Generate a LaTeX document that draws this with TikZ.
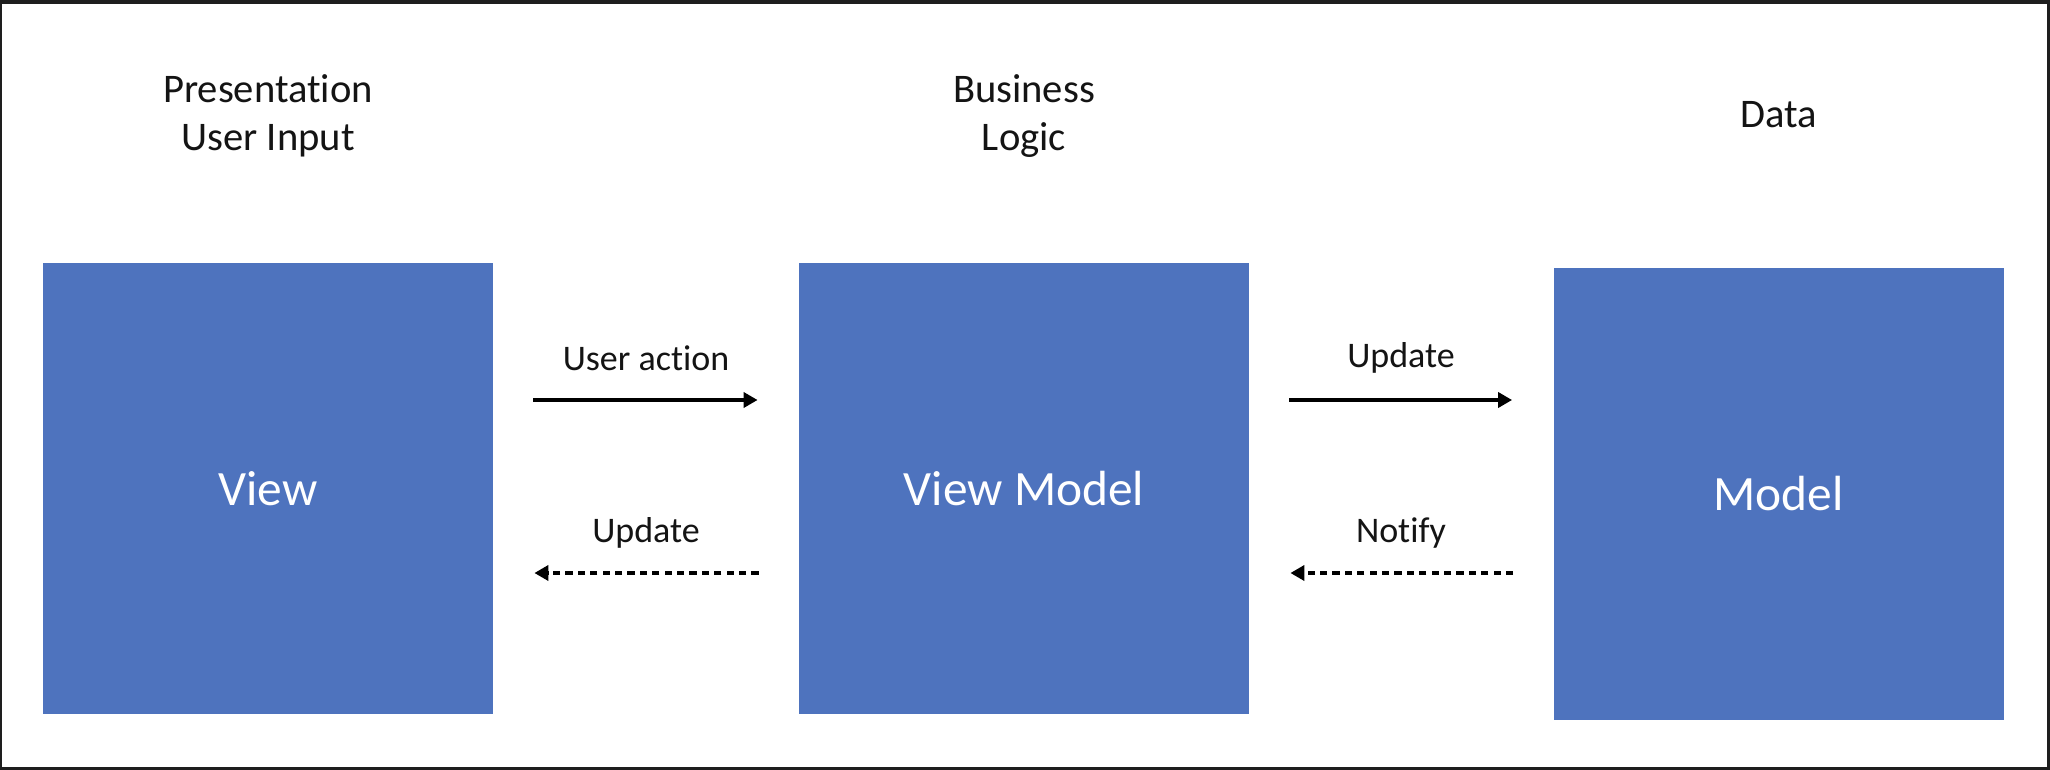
\documentclass[tikz,border=0pt]{standalone}
\usepackage{fontspec}
\setmainfont{Carlito}[Ligatures=NoCommon]
\usetikzlibrary{arrows.meta}
\definecolor{boxblue}{RGB}{78,115,190}
\definecolor{frame}{RGB}{30,30,30}
\definecolor{ink}{RGB}{20,20,20}
\tikzset{
  x=0.5pt, y=-0.5pt,
  block/.style={draw=none, fill=boxblue, minimum width=225pt, minimum height=225.5pt,
    inner sep=0pt, text=white, font=\fontsize{24.7}{29}\selectfont},
  heading/.style={align=center, text=ink, font=\fontsize{20.3}{24}\selectfont},
  lbl/.style={text=ink, font=\fontsize{18}{21}\selectfont},
  flowarrow/.style={line width=2pt, draw=black, -{Triangle[length=7pt,width=7.5pt]},
    shorten <=20pt, shorten >=20.5pt},
  backarrow/.style={flowarrow, dash pattern=on 3.6pt off 2.6pt}
}
\begin{document}
\begin{tikzpicture}
\useasboundingbox (0,0) rectangle (2050,770);
\fill[frame] (0,0) rectangle (2050,770);
\fill[white] (2,4) rectangle (2047,767);

\node[block] (view) at (268,488.5) {View};
\node[block] (vm) at (1024,488.5) {View Model};
\node[block] (model) at (1778.5,494) {Model};

\node[heading] (h1) at (268,116) {Presentation\\User Input};
\node[heading] (h2) at (1024,116) {Business\\Logic};
\node[heading] (h3) at (1779,115) {Data};

\coordinate (yup) at (0,400);
\coordinate (ydn) at (0,573);

\draw[flowarrow] (view.east |- yup) -- (vm.west |- yup);
\draw[backarrow] (vm.west |- ydn) -- (view.east |- ydn);
\draw[flowarrow] (vm.east |- yup) -- (model.west |- yup);
\draw[backarrow] (model.west |- ydn) -- (vm.east |- ydn);

\node[lbl] (l1) at (646,358) {User action};
\node[lbl] (l2) at (646,533) {Update};
\node[lbl] (l3) at (1401,358) {Update};
\node[lbl] (l4) at (1401,533) {Notify};
\end{tikzpicture}
\end{document}
